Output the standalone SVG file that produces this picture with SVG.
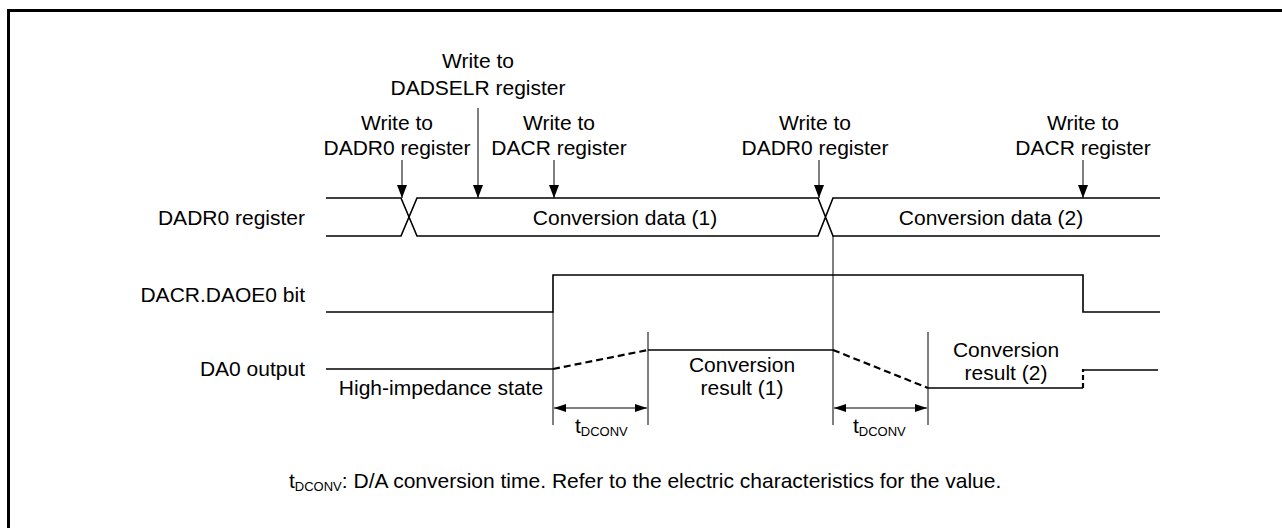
<svg xmlns="http://www.w3.org/2000/svg" width="1282" height="528" viewBox="0 0 1282 528">
<style>
text{font-family:"Liberation Sans",Arial,sans-serif;font-size:21px;fill:#000}
.m{text-anchor:middle}
.r{text-anchor:end}
.s{font-size:13px}
.w{fill:none;stroke:#000;stroke-width:1.6}
.t{fill:none;stroke:#000;stroke-width:1}
.d{fill:none;stroke:#000;stroke-width:2.2;stroke-dasharray:7,4}
</style>
<defs>
<marker id="ah" viewBox="0 0 13 10" refX="13" refY="5" markerWidth="13" markerHeight="10" markerUnits="userSpaceOnUse" orient="auto-start-reverse">
<path d="M0,0 L13,5 L0,10 Z" fill="#000"/>
</marker>
<marker id="dh" viewBox="0 0 12 8" refX="12" refY="4" markerWidth="12" markerHeight="8" markerUnits="userSpaceOnUse" orient="auto-start-reverse">
<path d="M0,0 L12,4 L0,8 Z" fill="#000"/>
</marker>
</defs>
<rect x="8.5" y="10.5" width="1300" height="540" fill="#fff" stroke="#000" stroke-width="3"/>
<g id="labels">
<text class="r" x="305" y="225">DADR0 register</text>
<text class="r" x="305" y="302">DACR.DAOE0 bit</text>
<text class="r" x="305" y="376">DA0 output</text>
</g>
<g id="write-dadr0-1"><text class="m" x="397" y="130">Write to</text><text class="m" x="397" y="155">DADR0 register</text></g>
<g id="write-dadselr"><text class="m" x="478" y="68">Write to</text><text class="m" x="478" y="95">DADSELR register</text></g>
<g id="write-dacr-1"><text class="m" x="559" y="130">Write to</text><text class="m" x="559" y="155">DACR register</text></g>
<g id="write-dadr0-2"><text class="m" x="815" y="130">Write to</text><text class="m" x="815" y="155">DADR0 register</text></g>
<g id="write-dacr-2"><text class="m" x="1083" y="130">Write to</text><text class="m" x="1083" y="155">DACR register</text></g>
<g id="dadr0-waveform">
<path class="w" d="M326,198 H401 L417,236 H818 L833,198 H1160 M326,236 H401 L417,198 H818 L833,236 H1160"/>
<text class="m" x="625" y="225">Conversion data (1)</text>
<text class="m" x="991" y="225">Conversion data (2)</text>
</g>
<g id="daoe0-waveform">
<path class="w" d="M326,312 H553 V275 H1083 V312 H1160"/>
</g>
<g id="da0-waveform">
<path class="w" d="M326,369 H553"/>
<path class="d" d="M553,369 L648,350"/>
<path class="w" d="M648,350 H833"/>
<path class="d" d="M833,350 L928,388"/>
<path class="w" d="M928,388 H1083"/>
<path class="d" d="M1083,388 V369" style="stroke-dasharray:5,3"/>
<path class="w" d="M1083,370 H1158"/>
<text class="m" x="441" y="395">High-impedance state</text>
<text class="m" x="742" y="372">Conversion</text>
<text class="m" x="742" y="395">result (1)</text>
<text class="m" x="1006" y="357">Conversion</text>
<text class="m" x="1006" y="380">result (2)</text>
</g>
<g id="connectors">
<line class="t" x1="402" y1="160" x2="402" y2="198" marker-end="url(#ah)"/>
<line class="t" x1="478" y1="108" x2="478" y2="198" marker-end="url(#ah)"/>
<line class="t" x1="554" y1="160" x2="554" y2="198" marker-end="url(#ah)"/>
<line class="t" x1="819" y1="160" x2="819" y2="198" marker-end="url(#ah)"/>
<line class="t" x1="1083" y1="160" x2="1083" y2="198" marker-end="url(#ah)"/>
<line class="t" x1="553" y1="312" x2="553" y2="425"/>
<line class="t" x1="648" y1="332" x2="648" y2="425"/>
<line class="t" x1="833" y1="236" x2="833" y2="425"/>
<line class="t" x1="928" y1="332" x2="928" y2="425"/>
<line class="t" x1="554" y1="408" x2="647" y2="408" marker-start="url(#dh)" marker-end="url(#dh)"/>
<line class="t" x1="834" y1="408" x2="927" y2="408" marker-start="url(#dh)" marker-end="url(#dh)"/>
</g>
<g id="tdconv-labels">
<text x="575" y="433">t<tspan class="s" dy="3">DCONV</tspan></text>
<text x="853" y="433">t<tspan class="s" dy="3">DCONV</tspan></text>
</g>
<g id="footnote">
<text x="289" y="488">t<tspan class="s" dy="3">DCONV</tspan><tspan dy="-3">: D/A conversion time. Refer to the electric characteristics for the value.</tspan></text>
</g>
</svg>
